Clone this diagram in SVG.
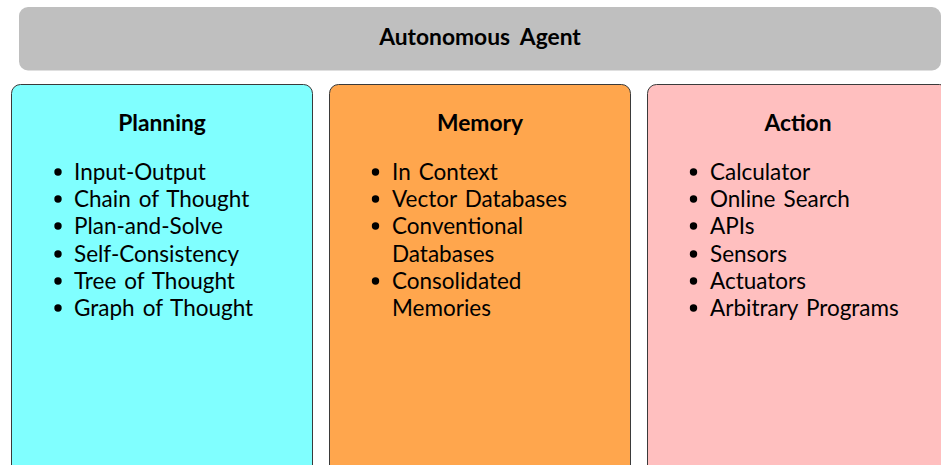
<svg xmlns="http://www.w3.org/2000/svg" width="941" height="465" viewBox="0 0 941 465">
  <style>
    .box { stroke: #3a3a3a; stroke-width: 1; }
    .title { font-family: Lato, "Noto Sans", sans-serif; font-weight: bold; font-size: 22.8px; word-spacing: 5px; fill: #000; text-anchor: middle; }
    .item { font-family: Lato, "Noto Sans", sans-serif; font-size: 22.5px; word-spacing: 2.3px; fill: #000; }
  </style>
  <defs>
    <circle id="dot" r="3.7" fill="#000"/>
  </defs>
  <rect width="941" height="465" fill="#fff"/>

  <g id="agent">
    <rect x="19" y="7" width="922" height="63.5" rx="9" fill="#bfbfbf"/>
    <text class="title" x="480" y="45">Autonomous Agent</text>
  </g>

  <g id="planning">
    <rect class="box" x="11.5" y="84.5" width="301" height="390" rx="9" fill="#80ffff"/>
    <text class="title" x="162" y="131">Planning</text>
    <g class="item">
      <use href="#dot" x="58" y="172"/><text x="74" y="180">Input-Output</text>
      <use href="#dot" x="58" y="199"/><text x="74" y="207">Chain of Thought</text>
      <use href="#dot" x="58" y="226"/><text x="74" y="234">Plan-and-Solve</text>
      <use href="#dot" x="58" y="254"/><text x="74" y="262">Self-Consistency</text>
      <use href="#dot" x="58" y="281"/><text x="74" y="289">Tree of Thought</text>
      <use href="#dot" x="58" y="308"/><text x="74" y="316">Graph of Thought</text>
    </g>
  </g>

  <g id="memory">
    <rect class="box" x="329.5" y="84.5" width="301" height="390" rx="9" fill="#ffa64d"/>
    <text class="title" x="480" y="131">Memory</text>
    <g class="item">
      <use href="#dot" x="375.5" y="172"/><text x="392" y="180">In Context</text>
      <use href="#dot" x="375.5" y="199"/><text x="392" y="207">Vector Databases</text>
      <use href="#dot" x="375.5" y="226"/><text x="392" y="234">Conventional</text>
      <text x="392" y="262">Databases</text>
      <use href="#dot" x="375.5" y="281"/><text x="392" y="289">Consolidated</text>
      <text x="392" y="316">Memories</text>
    </g>
  </g>

  <g id="action">
    <rect class="box" x="647.5" y="84.5" width="301" height="390" rx="9" fill="#ffbfbf"/>
    <text class="title" x="798" y="131">Action</text>
    <g class="item">
      <use href="#dot" x="693.5" y="172"/><text x="710" y="180">Calculator</text>
      <use href="#dot" x="693.5" y="199"/><text x="710" y="207">Online Search</text>
      <use href="#dot" x="693.5" y="226"/><text x="710" y="234">APIs</text>
      <use href="#dot" x="693.5" y="254"/><text x="710" y="262">Sensors</text>
      <use href="#dot" x="693.5" y="281"/><text x="710" y="289">Actuators</text>
      <use href="#dot" x="693.5" y="308"/><text x="710" y="316">Arbitrary Programs</text>
    </g>
  </g>

  <g id="connectors"></g>
</svg>
